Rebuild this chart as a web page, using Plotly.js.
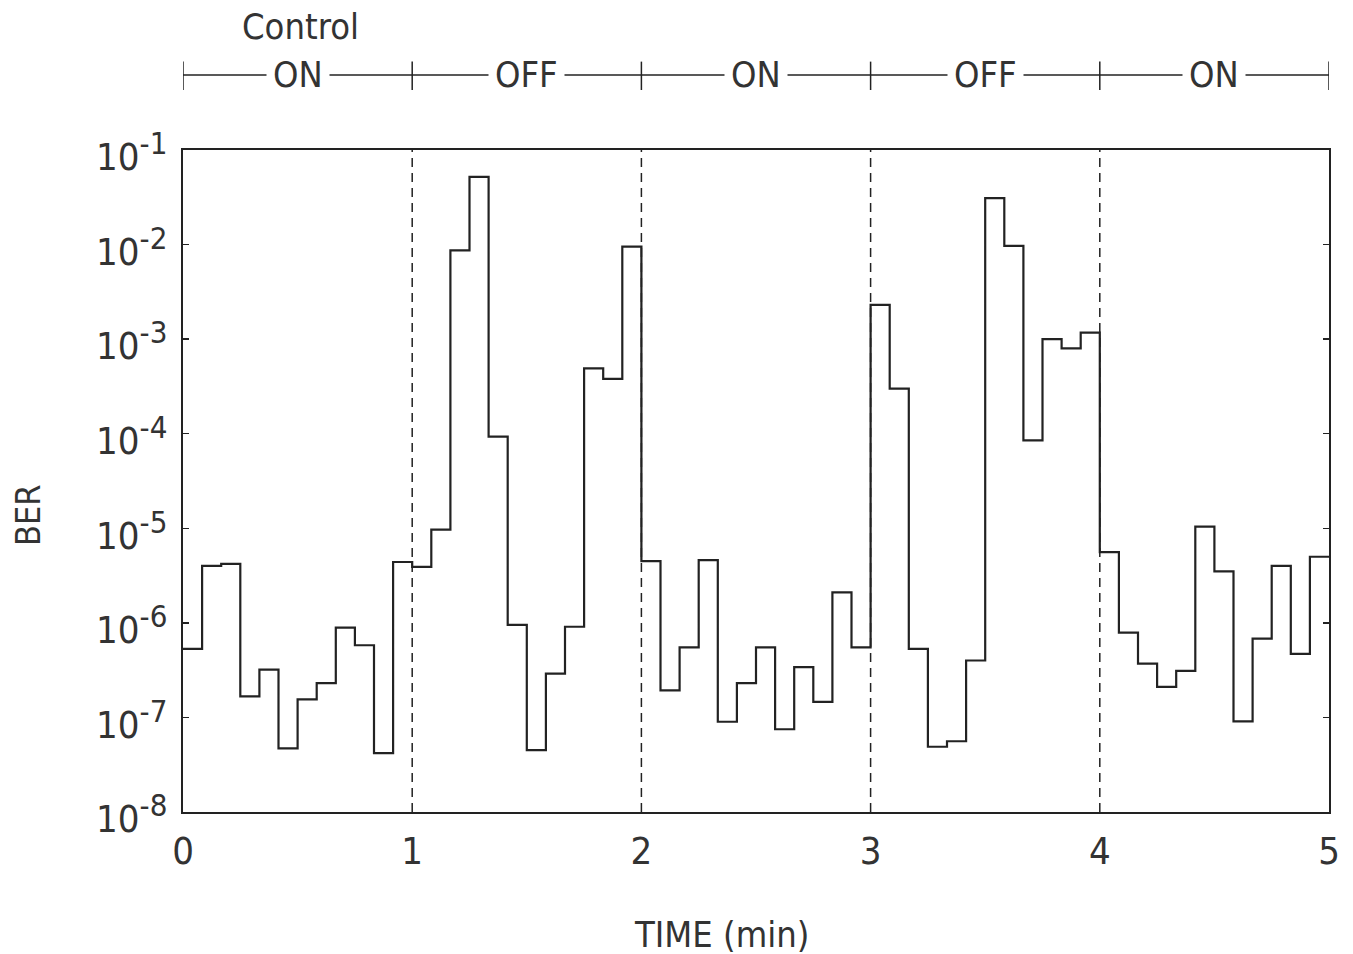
<!DOCTYPE html>
<html>
<head>
<meta charset="utf-8">
<script src="https://cdn.plot.ly/plotly-3.0.1.min.js"></script>
<style>html,body{margin:0;padding:0;background:#fff;}#chart{width:1353px;height:954px;}</style>
</head>
<body>
<div id="chart"></div>
<script>
// Time bin edges in seconds (5-second bins, 0..300 s)
var timeSec = [0,5,10,15,20,25,30,35,40,45,50,55,
  60,65,70,75,80,85,90,95,100,105,110,115,
  120,125,130,135,140,145,150,155,160,165,170,175,
  180,185,190,195,200,205,210,215,220,225,230,235,
  240,245,250,255,260,265,270,275,280,285,290,295,300];

// BER per 5-s bin, one array per minute
var berMin0 = [5.3e-7, 4.0e-6, 4.2e-6, 1.67e-7, 3.2e-7, 4.7e-8, 1.55e-7, 2.3e-7, 8.9e-7, 5.8e-7, 4.2e-8, 4.4e-6];
var berMin1 = [3.9e-6, 9.7e-6, 8.7e-3, 5.2e-2, 9.3e-5, 9.5e-7, 4.5e-8, 2.9e-7, 9.1e-7, 4.9e-4, 3.8e-4, 9.5e-3];
var berMin2 = [4.5e-6, 1.93e-7, 5.5e-7, 4.6e-6, 9.0e-8, 2.3e-7, 5.5e-7, 7.5e-8, 3.4e-7, 1.46e-7, 2.1e-6, 5.5e-7];
var berMin3 = [2.3e-3, 3.0e-4, 5.3e-7, 4.9e-8, 5.6e-8, 4.0e-7, 3.1e-2, 9.7e-3, 8.5e-5, 1.0e-3, 8.0e-4, 1.17e-3];
var berMin4 = [5.6e-6, 7.9e-7, 3.7e-7, 2.1e-7, 3.1e-7, 1.04e-5, 3.5e-6, 9.1e-8, 6.8e-7, 4.0e-6, 4.7e-7, 5.0e-6];

var phaseLabels = ["ON", "OFF", "ON", "OFF", "ON"];
var phaseCenters = [0.5, 1.5, 2.5, 3.5, 4.5];
var phaseBounds = [0, 1, 2, 3, 4, 5];
var switchTimes = [1, 2, 3, 4];

var yTickVals = [1e-8, 1e-7, 1e-6, 1e-5, 1e-4, 1e-3, 1e-2, 1e-1];
var yTickExp = ["-8", "-7", "-6", "-5", "-4", "-3", "-2", "-1"];
var xTickVals = [0, 1, 2, 3, 4, 5];

var ber = [].concat(berMin0, berMin1, berMin2, berMin3, berMin4);
var xs = timeSec.map(function (s) { return s / 60; });
var ys = ber.concat([ber[ber.length - 1]]);
var yTickText = yTickExp.map(function (e) {
  return "10<sup><span style=\"font-size:31px\">" + e + "</span></sup>";
});

var FONT = "Liberation Sans Narrow, DejaVu Sans Condensed, DejaVu Sans Mono, sans-serif";
var TXT = "#333";
var LINE = "#222";

var trace = {
  x: xs, y: ys, type: "scatter", mode: "lines",
  line: {shape: "hv", color: LINE, width: 2.2},
  hoverinfo: "skip", showlegend: false
};

var shapes = [];
switchTimes.forEach(function (t) {
  shapes.push({type: "line", xref: "x", yref: "paper", x0: t, x1: t, y0: 0, y1: 1,
    line: {color: LINE, width: 1.5, dash: "9px,6px"}});
});
// top ON/OFF bar
shapes.push({type: "line", xref: "x", yref: "paper", x0: 0, x1: 5, y0: 1.1133, y1: 1.1133,
  line: {color: LINE, width: 1.5}});
phaseBounds.forEach(function (t) {
  shapes.push({type: "line", xref: "x", yref: "paper", x0: t, x1: t, y0: 1.0906, y1: 1.1335,
    line: {color: LINE, width: 1.5}});
});

var annotations = [];
phaseLabels.forEach(function (lab, i) {
  annotations.push({xref: "x", yref: "paper", x: phaseCenters[i], y: 1.1133, text: lab,
    showarrow: false, xanchor: "center", yanchor: "middle", bgcolor: "#fff", borderpad: 6,
    font: {family: FONT, size: 36, color: TXT}});
});
annotations.push({xref: "paper", yref: "paper", x: 0.1021, y: 1.186, text: "Control",
  showarrow: false, xanchor: "center", yanchor: "middle", font: {family: FONT, size: 36, color: TXT}});
annotations.push({xref: "paper", yref: "paper", x: 0.4703, y: -0.1858, text: "TIME (min)",
  showarrow: false, xanchor: "center", yanchor: "middle", font: {family: FONT, size: 36, color: TXT}});
annotations.push({xref: "paper", yref: "paper", x: -0.1353, y: 0.4486, text: "BER", textangle: -90,
  showarrow: false, xanchor: "center", yanchor: "middle", font: {family: FONT, size: 34, color: TXT}});

var layout = {
  width: 1353, height: 954,
  margin: {l: 183, r: 24, t: 150, b: 142, pad: 0},
  paper_bgcolor: "#fff", plot_bgcolor: "#fff",
  font: {family: FONT, color: TXT, size: 36},
  showlegend: false,
  xaxis: {
    range: [0, 5], tickvals: xTickVals, ticktext: xTickVals.map(String),
    showgrid: false, zeroline: false, showline: true, mirror: true,
    linecolor: LINE, linewidth: 2, ticks: "", ticklabelstandoff: 4,
    tickfont: {family: FONT, size: 38, color: TXT}, fixedrange: true
  },
  yaxis: {
    type: "log", range: [-8, -1], tickvals: yTickVals, ticktext: yTickText,
    showgrid: false, zeroline: false, showline: true, mirror: "ticks",
    linecolor: LINE, linewidth: 2, ticks: "inside", ticklen: 6, tickwidth: 1.5, tickcolor: LINE,
    ticklabelstandoff: 6, ticklabelshift: 7,
    tickfont: {family: FONT, size: 38, color: TXT}, fixedrange: true
  },
  shapes: shapes,
  annotations: annotations
};

Plotly.newPlot("chart", [trace], layout, {displayModeBar: false, staticPlot: true});
</script>
</body>
</html>
